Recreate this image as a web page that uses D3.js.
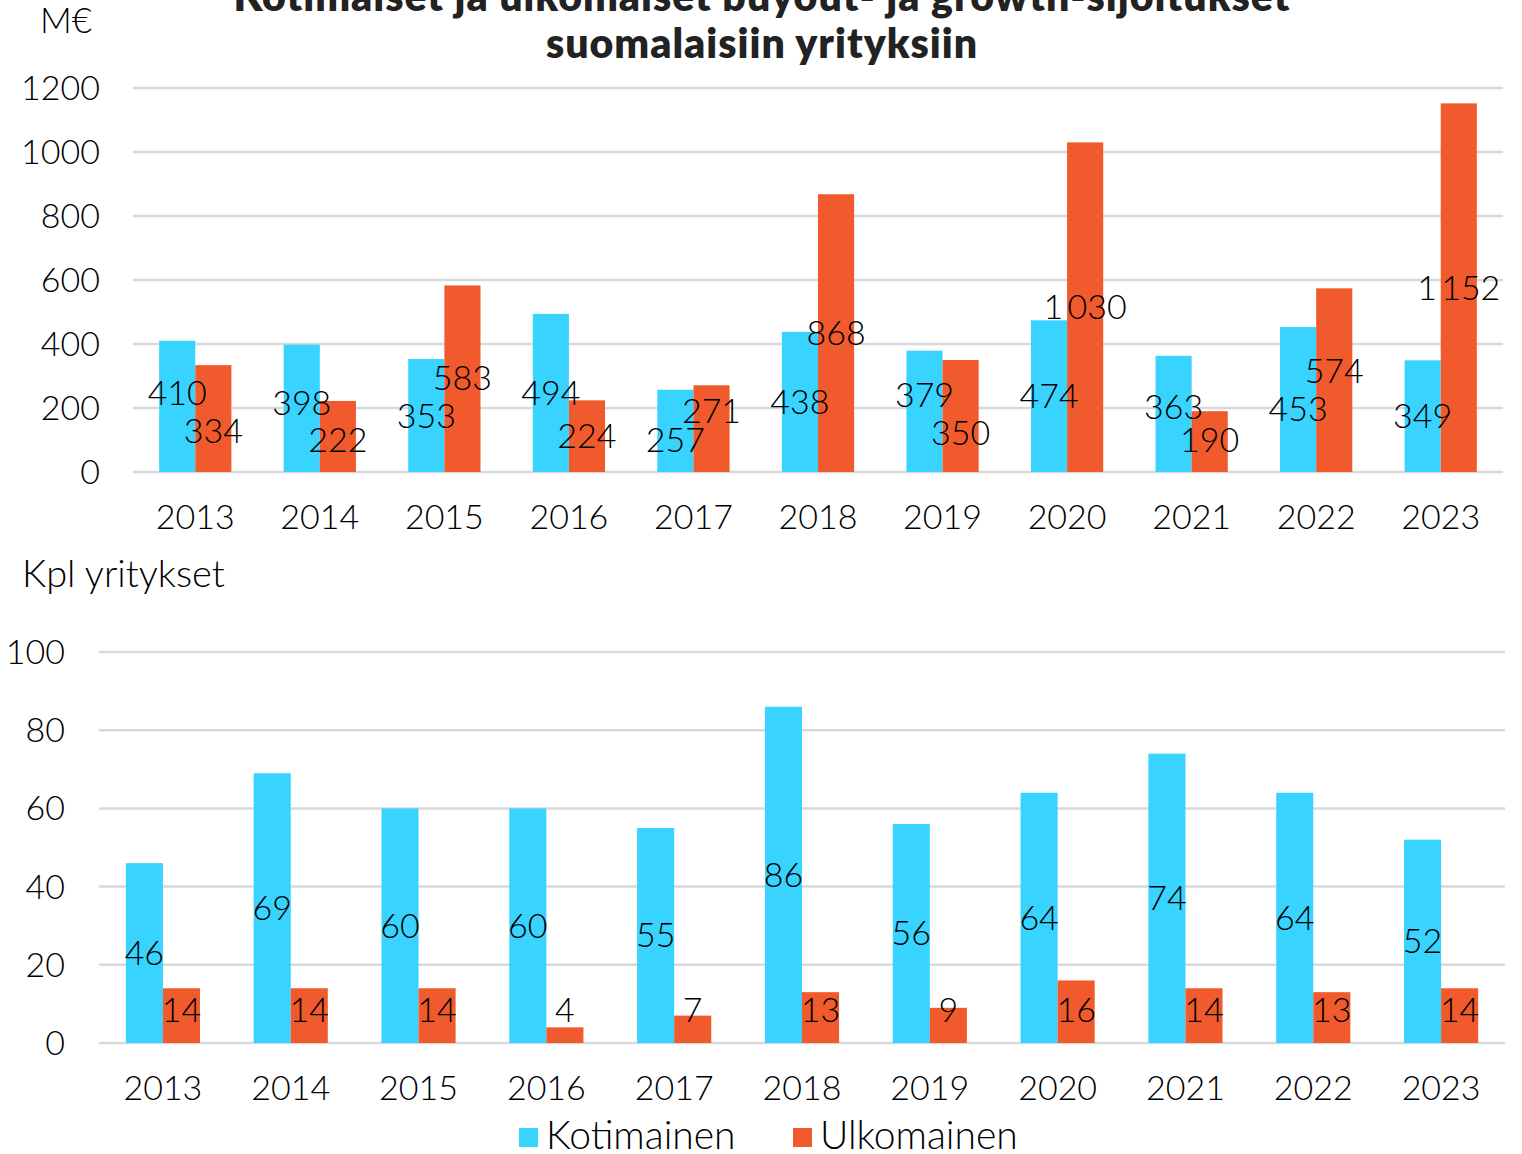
<!DOCTYPE html>
<html>
<head>
<meta charset="utf-8">
<script src="https://cdn.jsdelivr.net/npm/d3@7"></script>
<style>
  body { margin: 0; background: #fff; }
  svg { display: block; font-family: Lato, "Open Sans", sans-serif; }
  .num { font-weight: 300; fill: #000; }
</style>
</head>
<body>
<svg id="chart" width="1522" height="1154"></svg>
<script>
// data
const years = ["2013","2014","2015","2016","2017","2018","2019","2020","2021","2022","2023"];
const seriesNames = ["Kotimainen", "Ulkomainen"];
const euroKoti = [410, 398, 353, 494, 257, 438, 379, 474, 363, 453, 349];
const euroUlko = [334, 222, 583, 224, 271, 868, 350, 1030, 190, 574, 1152];
const countKoti = [46, 69, 60, 60, 55, 86, 56, 64, 74, 64, 52];
const countUlko = [14, 14, 14, 4, 7, 13, 9, 16, 14, 13, 14];
const euroTicks = [0, 200, 400, 600, 800, 1000, 1200];
const countTicks = [0, 20, 40, 60, 80, 100];

const titleLines = ["Kotimaiset ja ulkomaiset buyout- ja growth-sijoitukset", "suomalaisiin yrityksiin"];

const colors = { Kotimainen: "#38D3FF", Ulkomainen: "#F15A2C" };
const fi = d3.formatLocale({ decimal: ",", thousands: "\u2009", grouping: [3], currency: ["", "€"] });
const fmt = fi.format(",d");

const svg = d3.select("#chart");

// title (top line is partly cut off in the original)
svg.append("text")
  .attr("x", 762).attr("text-anchor", "middle")
  .attr("font-size", 41).attr("font-weight", 800).attr("fill", "#222")
  .attr("letter-spacing", 1)
  .selectAll("tspan").data(titleLines).join("tspan")
  .attr("x", 762)
  .attr("y", (d, i) => 11 + i * 47)
  .text(d => d);

function drawPanel(cfg) {
  const { koti, ulko, ticks, x0, x1r, yBase, yTop, maxV, tickX, unit, unitX, unitY, unitSize, labelY } = cfg;

  const x = d3.scaleBand().domain(years).range([x0, x1r]).paddingInner(0.42).paddingOuter(0.21);
  const xs = d3.scaleBand().domain(seriesNames).range([0, x.bandwidth()]);
  const y = d3.scaleLinear().domain([0, maxV]).range([yBase, yTop]);

  const g = svg.append("g");

  // grid lines
  g.selectAll(".grid").data(ticks).join("line")
    .attr("x1", x0).attr("x2", x1r)
    .attr("y1", d => y(d)).attr("y2", d => y(d))
    .attr("stroke", "#D9D9D9").attr("stroke-width", 2.5);

  // y tick labels
  g.selectAll(".ytick").data(ticks).join("text")
    .attr("class", "num")
    .attr("x", tickX).attr("y", d => y(d))
    .attr("dy", "0.35em").attr("text-anchor", "end")
    .attr("font-size", 34)
    .text(d => d);

  // unit label
  g.append("text").attr("class", "num")
    .attr("x", unitX).attr("y", unitY)
    .attr("font-size", unitSize).text(unit);

  const rows = years.map((yr, i) => ({ year: yr, vals: [
    { s: "Kotimainen", v: koti[i] }, { s: "Ulkomainen", v: ulko[i] }
  ]}));

  const grp = g.selectAll(".yr").data(rows).join("g")
    .attr("transform", d => `translate(${x(d.year)},0)`);

  grp.selectAll("rect").data(d => d.vals).join("rect")
    .attr("x", d => xs(d.s))
    .attr("y", d => y(d.v))
    .attr("width", xs.bandwidth())
    .attr("height", d => yBase - y(d.v))
    .attr("fill", d => colors[d.s]);

  // data labels: centred in the bar, kept off the baseline, pushed apart when they collide
  const minSep = 38;
  rows.forEach(r => {
    r.vals.forEach(d => { d.ly = Math.min((y(d.v) + yBase) / 2, yBase - 33); });
    const [a, b] = r.vals;
    if (Math.abs(a.ly - b.ly) < minSep) {
      const c = (a.ly + b.ly) / 2;
      const hi = a.v >= b.v ? a : b, lo = hi === a ? b : a;
      hi.ly = c - minSep / 2;
      lo.ly = Math.min(c + minSep / 2, yBase - 32);
    }
  });

  grp.selectAll(".lbl").data(d => d.vals).join("text")
    .attr("class", "num")
    .attr("x", d => xs(d.s) + xs.bandwidth() / 2)
    .attr("y", d => d.ly)
    .attr("dy", "0.35em").attr("text-anchor", "middle")
    .attr("font-size", 34)
    .text(d => fmt(d.v));

  // x labels
  g.selectAll(".xl").data(years).join("text")
    .attr("class", "num")
    .attr("x", d => x(d) + x.bandwidth() / 2)
    .attr("y", labelY).attr("text-anchor", "middle")
    .attr("font-size", 34)
    .text(d => d);
}

drawPanel({ koti: euroKoti, ulko: euroUlko, ticks: euroTicks, x0: 133, x1r: 1503,
  yBase: 472, yTop: 88, maxV: 1200, tickX: 100, unit: "M€", unitX: 40, unitY: 33, unitSize: 35, labelY: 529 });

drawPanel({ koti: countKoti, ulko: countUlko, ticks: countTicks, x0: 99, x1r: 1505,
  yBase: 1043, yTop: 652, maxV: 100, tickX: 65, unit: "Kpl yritykset", unitX: 22, unitY: 587, unitSize: 38, labelY: 1100 });

// legend
const leg = svg.append("g").selectAll("g").data(seriesNames).join("g")
  .attr("transform", (d, i) => `translate(${[519, 793][i]},1128)`);
leg.append("rect").attr("width", 19).attr("height", 19).attr("fill", d => colors[d]);
leg.append("text").attr("class", "num")
  .attr("x", 27).attr("y", 21).attr("font-size", 39).text(d => d);
</script>
</body>
</html>
